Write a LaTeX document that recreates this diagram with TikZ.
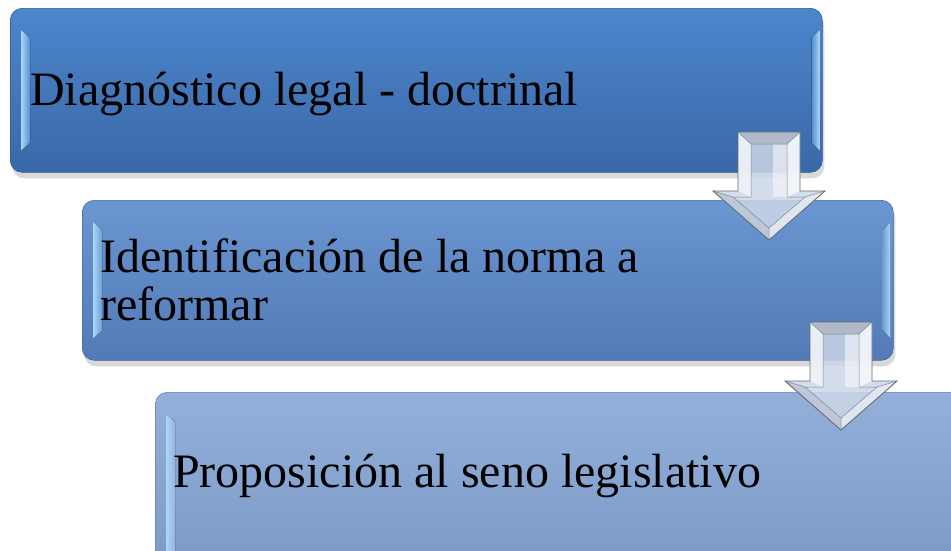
\documentclass[tikz,border=0pt]{standalone}
\usepackage{fontspec}
\setmainfont{Liberation Serif}
\usetikzlibrary{shadows}

\definecolor{boxonetop}{RGB}{76,134,204}
\definecolor{boxonebot}{RGB}{58,104,168}
\definecolor{boxtwotop}{RGB}{106,150,210}
\definecolor{boxtwobot}{RGB}{82,122,182}
\definecolor{boxthreetop}{RGB}{146,176,218}
\definecolor{boxthreebot}{RGB}{122,152,196}
\definecolor{glassedge}{RGB}{125,135,150}
\definecolor{glassmid}{RGB}{205,215,231}
\definecolor{bevellight}{RGB}{170,215,245}

\tikzset{
  stagebox/.style={rounded corners=12pt, draw=#1bot!85!black, line width=0.6pt,
    top color=#1top, bottom color=#1bot, anchor=north west, inner sep=0pt,
    drop shadow={shadow xshift=2pt, shadow yshift=-6pt, opacity=0.3}},
  stagetext/.style={anchor=base west, inner sep=0pt, align=left,
    font=\fontsize{48}{48}\selectfont},
  glassface/.style={fill=#1, fill opacity=0.85},
}

\begin{document}
\begin{tikzpicture}[x=1pt, y=-1pt]
\useasboundingbox (0,0) rectangle (951,550);
\clip (0,0) rectangle (951,550);

% the three stages
\node[stagebox=boxone, minimum width=812pt, minimum height=164pt] (diag) at (10,8) {};
\node[stagebox=boxtwo, minimum width=811pt, minimum height=160pt] (ident) at (82,200) {};
\node[stagebox=boxthree, minimum width=830pt, minimum height=190pt] (propo) at (155,392) {};

% bevel highlights on the sides
\foreach \b/\c in {diag/boxone, ident/boxtwo, propo/boxthree} {
  \fill[left color=bevellight, right color=\c top!90!bevellight] ([xshift=11pt, yshift=-22pt]\b.north west) -- ([xshift=20pt, yshift=-30pt]\b.north west) -- ([xshift=20pt, yshift=30pt]\b.south west) -- ([xshift=11pt, yshift=22pt]\b.south west) -- cycle;
  \fill[left color=\c top!90!bevellight, right color=bevellight] ([xshift=-11pt, yshift=-30pt]\b.north east) -- ([xshift=-3pt, yshift=-22pt]\b.north east) -- ([xshift=-3pt, yshift=22pt]\b.south east) -- ([xshift=-11pt, yshift=30pt]\b.south east) -- cycle;
}

\node[stagetext] (diagtxt) at (30,105) {Diagnóstico legal - doctrinal};
\node[stagetext] (identtxt) at (100,320) {Identificación de la norma a\\reformar};
\node[stagetext] (propotxt) at (173,487) {Proposición al seno legislativo};

% glass arrows between the stages
\foreach \n/\ax/\ay in {1/769/132, 2/841/322} {
  \coordinate (flow\n) at (\ax,\ay);
  \begin{scope}[shift={(flow\n)}]
    \fill[glassface=glassmid] (-31,0) -- (31,0) -- (31,59) -- (56,59) -- (0,108) -- (-56,59) -- (-31,59) -- cycle;
    \fill[glassface=white!75!glassmid] (-31,0) -- (-18,12) -- (-18,65) -- (-31,59) -- cycle;
    \fill[glassface=white!85!glassmid] (31,0) -- (18,12) -- (18,65) -- (31,59) -- cycle;
    \fill[glassface=glassmid!85!black] (-31,0) -- (31,0) -- (18,12) -- (-18,12) -- cycle;
    \fill[glassface=glassmid!92!black] (-56,59) -- (-36,65) -- (0,96) -- (0,108) -- cycle;
    \fill[glassface=white!50!glassmid] (56,59) -- (36,65) -- (0,96) -- (0,108) -- cycle;
    \fill[white, opacity=0.5] (4,12) rectangle (18,65);
    \draw[glassedge, line width=0.5pt] (-18,12) -- (18,12) -- (18,65) -- (36,65) -- (0,96) -- (-36,65) -- (-18,65) -- cycle;
    \draw[glassedge, line width=0.5pt] (-31,0) -- (-18,12) (31,0) -- (18,12) (-56,59) -- (-36,65) (56,59) -- (36,65) (0,108) -- (0,96);
    \draw[glassedge!80!black, line width=0.9pt] (-31,0) -- (31,0) -- (31,59) -- (56,59) -- (0,108) -- (-56,59) -- (-31,59) -- cycle;
  \end{scope}
}
\end{tikzpicture}
\end{document}
